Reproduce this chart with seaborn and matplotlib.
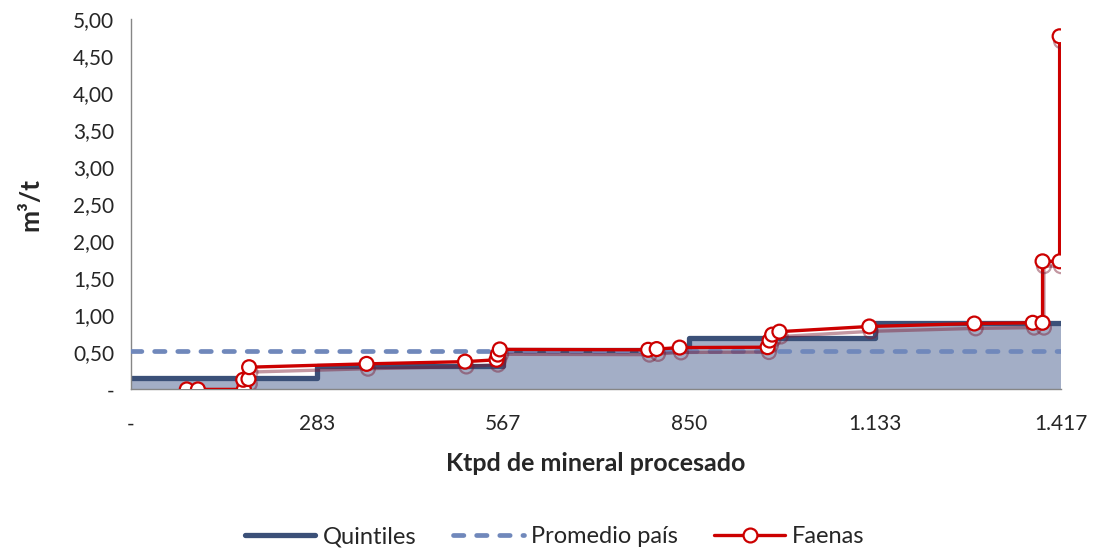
import seaborn as sns
import pandas as pd
import numpy as np
import matplotlib.pyplot as plt
import matplotlib.patheffects as pe
from matplotlib.lines import Line2D

# Quintile steps (edges in ktpd, m3/t per quintile)
quintile_edges = [0, 283.4, 566.8, 850.2, 1133.6, 1417]
quintile_values = [0.15, 0.31, 0.53, 0.69, 0.90]

# National average
promedio_pais = 0.52

# Faenas (cumulative ktpd, m3/t)
faenas_x = [85, 102, 172, 171, 179, 180, 359, 509, 557, 559, 562, 788, 801, 836,
            970, 973, 977, 988, 1125, 1285, 1374, 1389, 1389, 1415, 1415]
faenas_y = [0, 0, 0, 0.13, 0.14, 0.30, 0.345, 0.375, 0.40, 0.47, 0.54, 0.535, 0.545, 0.565,
            0.57, 0.66, 0.74, 0.78, 0.85, 0.89, 0.90, 0.90, 1.73, 1.73, 4.77]

x_ticks = [0, 283.4, 566.8, 850.2, 1133.6, 1417]
x_tick_labels = ['-', '283', '567', '850', '1.133', '1.417']
y_ticks = [0, 0.5, 1, 1.5, 2, 2.5, 3, 3.5, 4, 4.5, 5]
y_tick_labels = ['-', '0,50', '1,00', '1,50', '2,00', '2,50', '3,00', '3,50', '4,00', '4,50', '5,00']

navy = '#3b5078'
area_col = '#a3aec6'
dash_col = '#7088bb'
red = '#cc0000'

sns.set_style('white')
plt.rcParams['font.family'] = ['Lato', 'DejaVu Sans']

fig = plt.figure(figsize=(10.96, 5.5), dpi=100)
ax = fig.add_axes([0.1195, 0.292, 0.8485, 0.673])

# Quintile area + step line
q = pd.DataFrame({'x': quintile_edges, 'y': quintile_values + [quintile_values[-1]]})
ax.fill_between(q['x'], q['y'], step='post', color=area_col, lw=0, zorder=1)
sns.lineplot(data=q, x='x', y='y', ax=ax, color=navy, lw=3.8, drawstyle='steps-post',
             solid_capstyle='round', estimator=None, sort=False, zorder=2)

# National average dashed line
p = pd.DataFrame({'x': [0, 1417], 'y': [promedio_pais, promedio_pais]})
sns.lineplot(data=p, x='x', y='y', ax=ax, color=dash_col, lw=3.4, dashes=False,
             estimator=None, zorder=3)
ax.lines[-1].set_dashes((2.2, 2.7))
ax.lines[-1].set_dash_capstyle('round')

# Faenas
f = pd.DataFrame({'x': faenas_x, 'y': faenas_y})
sns.lineplot(data=f, x='x', y='y', ax=ax, color=red, lw=2.4, marker='o', markersize=10,
             markerfacecolor='white', markeredgecolor=red, markeredgewidth=1.6,
             estimator=None, sort=False, zorder=4,
             path_effects=[pe.SimpleLineShadow(offset=(1, -3.5), shadow_color='#7a1830', alpha=0.45),
                           pe.Normal()])

ax.set_xlim(0, 1417)
ax.set_ylim(0, 5)
ax.set_xticks(x_ticks)
ax.set_xticklabels(x_tick_labels)
ax.set_yticks(y_ticks)
ax.set_yticklabels(y_tick_labels)
ax.tick_params(axis='both', which='major', direction='out', length=6, width=1,
               color='#868686', labelsize=15)
ax.tick_params(axis='y', pad=6)
ax.tick_params(axis='x', pad=12)
for s in ['top', 'right']:
    ax.spines[s].set_visible(False)
for s in ['left', 'bottom']:
    ax.spines[s].set_color('#868686')
    ax.spines[s].set_linewidth(1)
ax.grid(False)

ax.set_xlabel('Ktpd de mineral procesado', fontsize=18, fontweight='bold', labelpad=13)
ax.set_ylabel('m³/t', fontsize=19, fontweight='bold', labelpad=22)

if ax.get_legend() is not None:
    ax.get_legend().remove()
handles = [
    Line2D([], [], color=navy, lw=3.8),
    Line2D([], [], color=dash_col, lw=3.4, dashes=(2.2, 2.7), dash_capstyle='round'),
    Line2D([], [], color=red, lw=2.4, marker='o', markersize=10, markerfacecolor='white',
           markeredgecolor=red, markeredgewidth=1.6),
]
fig.legend(handles, ['Quintiles', 'Promedio país', 'Faenas'], loc='center',
           bbox_to_anchor=(0.506, 0.024), ncol=3, frameon=False, fontsize=17,
           handlelength=3.0, columnspacing=1.55, handletextpad=0.3)

fig.savefig('out.png', dpi=100)
